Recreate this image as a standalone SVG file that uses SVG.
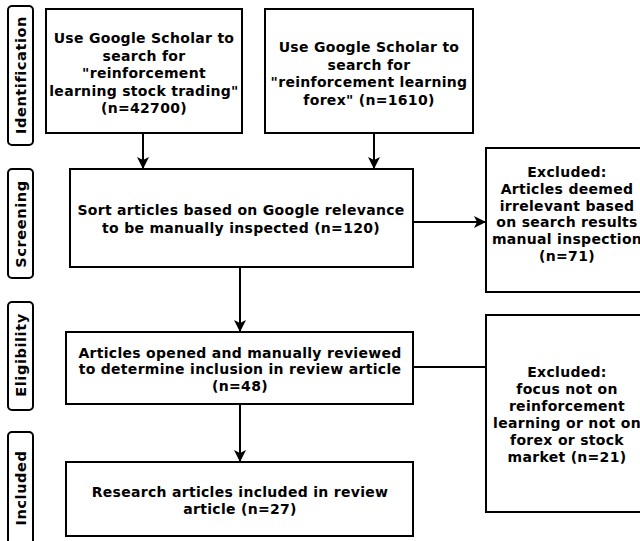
<svg xmlns="http://www.w3.org/2000/svg" width="640" height="541" viewBox="0 0 640 541">
<style>
.box{fill:#fff;stroke:#000;stroke-width:2}
.lbl{fill:#fff;stroke:#000;stroke-width:2}
.t{font-family:"DejaVu Sans",Verdana,sans-serif;font-weight:bold;font-size:14px;letter-spacing:0.3px;fill:#000;text-anchor:middle}
.s{font-size:14.5px;letter-spacing:0.6px}
.c{stroke:#000;stroke-width:2;fill:none}
</style>
<defs>
<marker id="ah" markerUnits="userSpaceOnUse" markerWidth="12" markerHeight="12" refX="11" refY="6" orient="auto">
<path d="M0,0 L12,6 L0,12 L3,6 z" fill="#000"/>
</marker>
</defs>
<rect width="640" height="541" fill="#fff"/>
<g id="stage-identification">
<rect class="lbl" x="8" y="6" width="25" height="139" rx="4"/>
<text class="t s" transform="translate(25.5,75) rotate(-90)">Identification</text>
</g>
<g id="stage-screening">
<rect class="lbl" x="8" y="169" width="25" height="109" rx="4"/>
<text class="t s" transform="translate(25.5,224) rotate(-90)">Screening</text>
</g>
<g id="stage-eligibility">
<rect class="lbl" x="8" y="302" width="25" height="108" rx="4"/>
<text class="t s" transform="translate(25.5,355) rotate(-90)">Eligibility</text>
</g>
<g id="stage-included">
<rect class="lbl" x="8" y="432" width="25" height="120" rx="4"/>
<text class="t s" transform="translate(25.5,488) rotate(-90)">Included</text>
</g>
<g id="search-stock">
<rect class="box" x="46" y="9" width="196" height="124"/>
<text class="t" x="144" y="43">Use Google Scholar to</text>
<text class="t" x="144" y="61">search for</text>
<text class="t" x="144" y="78">"reinforcement</text>
<text class="t" x="144" y="96">learning stock trading"</text>
<text class="t" x="144" y="113">(n=42700)</text>
</g>
<g id="search-forex">
<rect class="box" x="265" y="9" width="208" height="124"/>
<text class="t" x="369" y="52">Use Google Scholar to</text>
<text class="t" x="369" y="70">search for</text>
<text class="t" x="369" y="87">"reinforcement learning</text>
<text class="t" x="369" y="105">forex" (n=1610)</text>
</g>
<g id="sort">
<rect class="box" x="70" y="169" width="343" height="98"/>
<text class="t" x="241" y="215">Sort articles based on Google relevance</text>
<text class="t" x="241" y="233">to be manually inspected (n=120)</text>
</g>
<g id="excluded-1">
<rect class="box" x="486" y="148" width="162" height="144"/>
<text class="t" x="567" y="177">Excluded:</text>
<text class="t" x="567" y="194">Articles deemed</text>
<text class="t" x="567" y="211">irrelevant based</text>
<text class="t" x="567" y="227">on search results</text>
<text class="t" x="567" y="244">manual inspection</text>
<text class="t" x="567" y="261">(n=71)</text>
</g>
<g id="eligibility">
<rect class="box" x="66" y="332" width="347" height="72"/>
<text class="t" x="240" y="358">Articles opened and manually reviewed</text>
<text class="t" x="240" y="374">to determine inclusion in review article</text>
<text class="t" x="240" y="391">(n=48)</text>
</g>
<g id="excluded-2">
<rect class="box" x="486" y="315" width="162" height="197"/>
<text class="t" x="567" y="377">Excluded:</text>
<text class="t" x="567" y="394">focus not on</text>
<text class="t" x="567" y="411">reinforcement</text>
<text class="t" x="567" y="428">learning or not on</text>
<text class="t" x="567" y="445">forex or stock</text>
<text class="t" x="567" y="462">market (n=21)</text>
</g>
<g id="included">
<rect class="box" x="66" y="462" width="347" height="74"/>
<text class="t" x="240" y="497">Research articles included in review</text>
<text class="t" x="240" y="514">article (n=27)</text>
</g>
<g id="connectors">
<line class="c" x1="143" y1="133" x2="143" y2="168" marker-end="url(#ah)"/>
<line class="c" x1="374" y1="133" x2="374" y2="168" marker-end="url(#ah)"/>
<line class="c" x1="413" y1="222" x2="485" y2="222" marker-end="url(#ah)"/>
<line class="c" x1="240" y1="267" x2="240" y2="331" marker-end="url(#ah)"/>
<line class="c" x1="240" y1="404" x2="240" y2="461" marker-end="url(#ah)"/>
<line class="c" x1="413" y1="367" x2="486" y2="367"/>
</g>
</svg>
